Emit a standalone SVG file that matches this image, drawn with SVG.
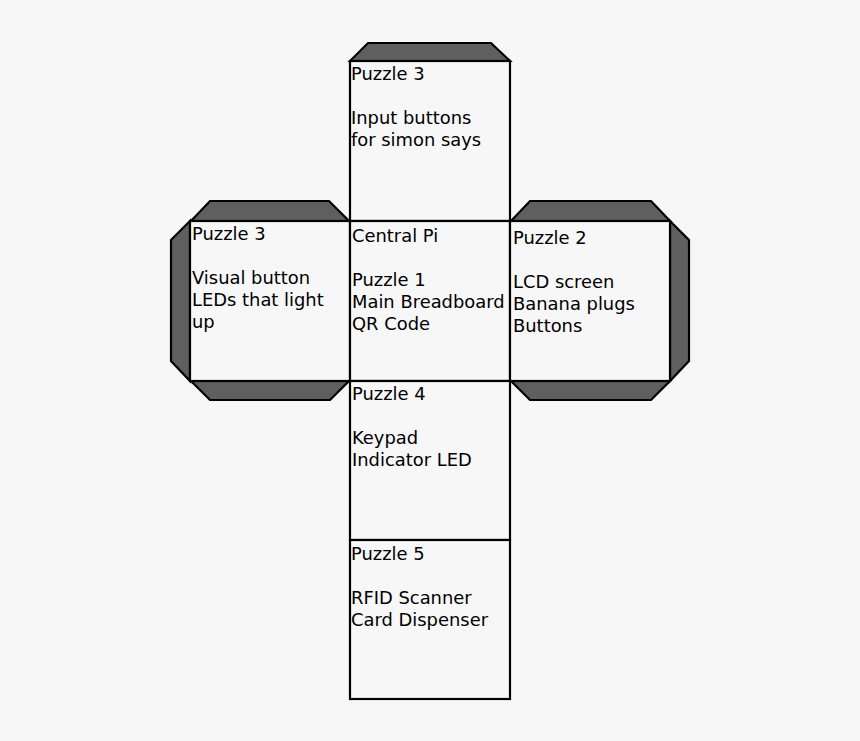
<svg xmlns="http://www.w3.org/2000/svg" width="860" height="741" viewBox="0 0 860 741">
<style>
.face{fill:#f7f7f7;stroke:#000;stroke-width:2.2}
.flap{fill:#5f5f5f;stroke:#000;stroke-width:2.2;stroke-linejoin:miter}
text{font-family:"DejaVu Sans",sans-serif;font-size:17.9px;fill:#000}
</style>
<rect width="860" height="741" fill="#f7f7f7"/>
<g id="flaps">
<polygon class="flap" points="350,61 368,43 491,43 510,61"/>
<polygon class="flap" points="191,221 210,201 329,201 349,221"/>
<polygon class="flap" points="190,221 171,240 171,361 190,381"/>
<polygon class="flap" points="191,381 210,400 330,400 349,381"/>
<polygon class="flap" points="511,221 530,201 651,201 670,221"/>
<polygon class="flap" points="670,221 689,240 689,361 670,381"/>
<polygon class="flap" points="511,381 530,400 651,400 670,381"/>
</g>
<g id="top">
<rect class="face" x="350" y="61" width="160" height="160"/>
<text x="351" y="80">Puzzle 3</text>
<text x="351" y="124">Input buttons</text>
<text x="351" y="146">for simon says</text>
</g>
<g id="left">
<rect class="face" x="190" y="221" width="160" height="160"/>
<text x="192" y="240">Puzzle 3</text>
<text x="192" y="284">Visual button</text>
<text x="192" y="306">LEDs that light</text>
<text x="192" y="328">up</text>
</g>
<g id="center">
<rect class="face" x="350" y="221" width="160" height="160"/>
<text x="352" y="242">Central Pi</text>
<text x="352" y="286">Puzzle 1</text>
<text x="352" y="308">Main Breadboard</text>
<text x="352" y="330">QR Code</text>
</g>
<g id="right">
<rect class="face" x="510" y="221" width="160" height="160"/>
<text x="513" y="244">Puzzle 2</text>
<text x="513" y="288">LCD screen</text>
<text x="513" y="310">Banana plugs</text>
<text x="513" y="332">Buttons</text>
</g>
<g id="bottom1">
<rect class="face" x="350" y="381" width="160" height="159"/>
<text x="352" y="400">Puzzle 4</text>
<text x="352" y="444">Keypad</text>
<text x="352" y="466">Indicator LED</text>
</g>
<g id="bottom2">
<rect class="face" x="350" y="540" width="160" height="159"/>
<text x="351" y="560">Puzzle 5</text>
<text x="351" y="604">RFID Scanner</text>
<text x="351" y="626">Card Dispenser</text>
</g>
<g id="connectors"></g>
</svg>
